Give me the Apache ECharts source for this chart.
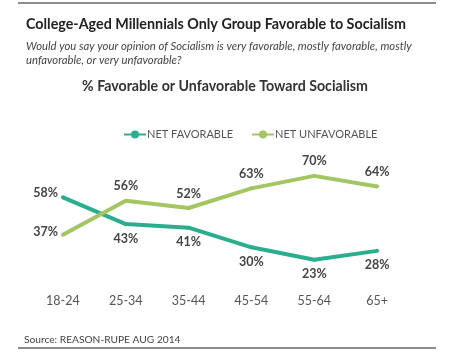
<!DOCTYPE html>
<html><head><meta charset="utf-8">
<script src="https://cdn.jsdelivr.net/npm/echarts@6/dist/echarts.min.js"></script>
<style>html,body{margin:0;padding:0;background:#fff}#c{width:450px;height:359px}</style>
</head><body><div id="c"></div>
<script>
const categories = ['18-24','25-34','35-44','45-54','55-64','65+'];
const favorable = [58,43,41,30,23,28];
const unfavorable = [37,56,52,63,70,64];
const seriesNames = ['NET FAVORABLE','NET UNFAVORABLE'];

const FONT = 'Lato, "Open Sans", sans-serif';
const TEAL = '#2BAE8E', GREEN = '#A3C563';
const chart = echarts.init(document.getElementById('c'));
const lbl = {show:true, formatter:'{c}%', color:'#444', fontWeight:'bold', fontSize:12.5, fontFamily:FONT, distance:6};
chart.setOption({
  animation:false,
  title:[
    {text:'College-Aged Millennials Only Group Favorable to Socialism', left:21, top:12,
     textStyle:{fontSize:14.3, fontWeight:'bold', color:'#222', fontFamily:FONT}},
    {text:'Would you say your opinion of Socialism is very favorable, mostly favorable, mostly\nunfavorable, or very unfavorable?', left:21, top:34,
     textStyle:{fontSize:11.3, fontStyle:'italic', fontWeight:'normal', color:'#444', fontFamily:FONT, lineHeight:14}},
    {text:'% Favorable or Unfavorable Toward Socialism', left:'center', top:74,
     textStyle:{fontSize:14.2, fontWeight:'bold', color:'#333', fontFamily:FONT}},
    {text:'Source: REASON-RUPE AUG 2014', left:19, top:330,
     textStyle:{fontSize:10.2, fontWeight:'normal', color:'#444', fontFamily:FONT}}
  ],
  graphic:[
    {type:'line', shape:{x1:18,y1:3,x2:436,y2:3}, style:{stroke:'#666', lineWidth:1.5}},
    {type:'line', shape:{x1:18,y1:348,x2:436,y2:348}, style:{stroke:'#666', lineWidth:1.5}}
  ],
  legend:{left:118, top:124, itemWidth:22, itemHeight:10, itemGap:18,
    textStyle:{fontSize:11, color:'#555', fontFamily:FONT, padding:[0,0,0,-4]},
    data:seriesNames},
  grid:{left:31.5, right:41.5, top:158, height:125},
  xAxis:{type:'category', data:categories, boundaryGap:true,
    axisLine:{show:false}, axisTick:{show:false},
    axisLabel:{color:'#555', fontSize:12.5, fontFamily:FONT, margin:11}},
  yAxis:{type:'value', min:10, max:80, show:false, splitLine:{show:false}},
  series:[
    {name:seriesNames[0], type:'line', color:TEAL,
     data: favorable.map((v,i)=> i===0 ? {value:v, label:{position:'left', distance:3, offset:[0,-4]}} : v),
     lineStyle:{width:4, color:TEAL}, symbol:'circle', symbolSize:4, itemStyle:{color:TEAL},
     label:Object.assign({}, lbl, {position:'bottom'}),
     emphasis:{disabled:true}},
    {name:seriesNames[1], type:'line', color:GREEN,
     data: unfavorable.map((v,i)=> i===0 ? {value:v, label:{position:'left', distance:3, offset:[0,-3]}} : v),
     lineStyle:{width:4, color:GREEN}, symbol:'circle', symbolSize:4, itemStyle:{color:GREEN},
     label:Object.assign({}, lbl, {position:'top'}),
     emphasis:{disabled:true}}
  ]
});
</script></body></html>
